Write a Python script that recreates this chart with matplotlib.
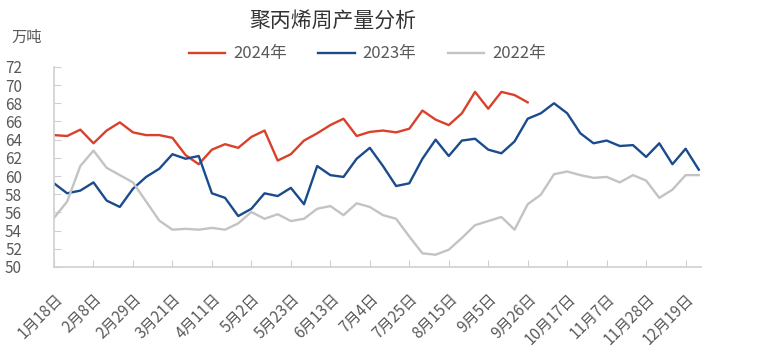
import matplotlib
matplotlib.use('Agg')
import matplotlib.pyplot as plt
import numpy as np

plt.rcParams['font.family'] = ['Noto Sans CJK SC', 'DejaVu Sans']

# 周度日期 (1月18日 ~ 12月26日)
dates = ['1月18日', '1月25日', '2月1日', '2月8日', '2月15日', '2月22日', '2月29日', '3月7日',
         '3月14日', '3月21日', '3月28日', '4月4日', '4月11日', '4月18日', '4月25日', '5月2日',
         '5月9日', '5月16日', '5月23日', '5月30日', '6月6日', '6月13日', '6月20日', '6月27日',
         '7月4日', '7月11日', '7月18日', '7月25日', '8月1日', '8月8日', '8月15日', '8月22日',
         '8月29日', '9月5日', '9月12日', '9月19日', '9月26日', '10月3日', '10月10日', '10月17日',
         '10月24日', '10月31日', '11月7日', '11月14日', '11月21日', '11月28日', '12月5日',
         '12月12日', '12月19日', '12月26日']

y2024 = [64.5, 64.4, 65.1, 63.6, 65.0, 65.9, 64.8, 64.5, 64.5, 64.2,
         62.3, 61.3, 62.9, 63.5, 63.1, 64.3, 65.0, 61.7, 62.4, 63.9,
         64.7, 65.6, 66.3, 64.4, 64.85, 65.0, 64.8, 65.2, 67.2, 66.2,
         65.6, 66.9, 69.25, 67.4, 69.25, 68.9, 68.1]

y2023 = [59.2, 58.1, 58.4, 59.3, 57.3, 56.6, 58.6, 59.9, 60.8, 62.4,
         61.9, 62.2, 58.1, 57.6, 55.6, 56.4, 58.1, 57.8, 58.7, 56.9,
         61.1, 60.1, 59.9, 61.9, 63.1, 61.1, 58.9, 59.2, 61.9, 64.0,
         62.2, 63.9, 64.1, 62.9, 62.5, 63.8, 66.3, 66.9, 68.0, 66.9,
         64.7, 63.6, 63.9, 63.3, 63.4, 62.1, 63.6, 61.3, 63.0, 60.7]

y2022 = [55.4, 57.2, 61.1, 62.8, 60.9, 60.1, 59.3, 57.2, 55.1, 54.1,
         54.2, 54.1, 54.3, 54.1, 54.8, 56.05, 55.3, 55.8, 55.05, 55.3,
         56.4, 56.7, 55.7, 57.0, 56.6, 55.7, 55.3, 53.35, 51.5, 51.35,
         51.9, 53.2, 54.6, 55.05, 55.5, 54.1, 56.9, 57.95, 60.2, 60.5,
         60.1, 59.8, 59.9, 59.3, 60.1, 59.5, 57.6, 58.5, 60.1, 60.1]

fig = plt.figure(figsize=(7.65, 3.52), dpi=100)
ax = fig.add_axes([0.0706, 0.2415, 0.8454, 0.5685])

x = np.arange(len(dates))
ax.plot(x[:len(y2024)], y2024, color='#d9412b', lw=1.7, label='2024年')
ax.plot(x, y2023, color='#1a4b8c', lw=1.7, label='2023年')
ax.plot(x, y2022, color='#c3c3c3', lw=1.7, label='2022年')

ax.set_xlim(0, 49.15)
ax.set_ylim(50, 72)
ax.set_yticks(np.arange(50, 73, 2))
ax.set_xticks(x[::3])
ax.set_xticklabels(dates[::3], rotation=45, ha='right', va='top', rotation_mode='anchor')

for s in ['top', 'right']:
    ax.spines[s].set_visible(False)
for s in ['left', 'bottom']:
    ax.spines[s].set_color('#d0d0d0')
    ax.spines[s].set_linewidth(1.2)
ax.tick_params(axis='both', direction='in', length=5, color='#d0d0d0', labelcolor='#595959')
ax.tick_params(axis='x', pad=17, labelsize=11)
ax.tick_params(axis='y', pad=23, labelsize=11)

fig.text(0.435, 0.942, '聚丙烯周产量分析', ha='center', va='center', fontsize=15, color='#333333')
fig.text(0.015, 0.893, '万吨', ha='left', va='center', fontsize=11, color='#595959')
fig.legend(loc='center', bbox_to_anchor=(0.48, 0.847), ncol=3, frameon=False,
           fontsize=12, handlelength=2.2, handletextpad=0.45, columnspacing=1.9,
           labelcolor='#595959')

fig.savefig('out.png', dpi=100)
